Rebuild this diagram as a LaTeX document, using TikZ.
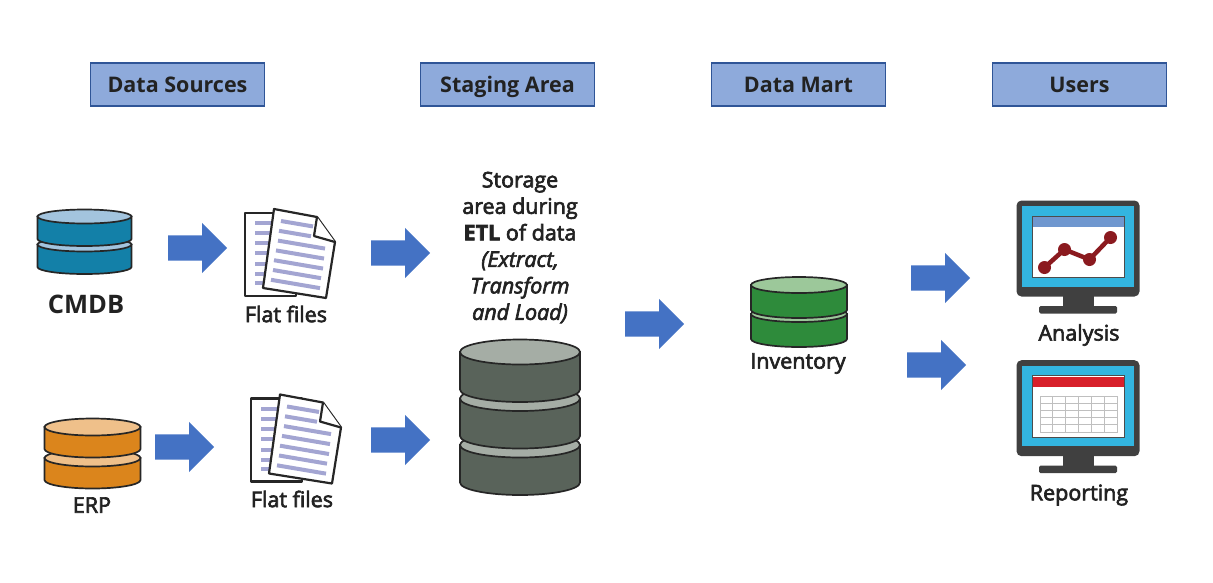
\documentclass[tikz,border=0pt]{standalone}
\usepackage{fontspec}
\setmainfont{Open Sans}
\newfontfamily\semifont[FakeBold=3]{Open Sans}
\usetikzlibrary{shapes.arrows}
\definecolor{headfill}{HTML}{8EAADB}
\definecolor{headline}{HTML}{2F5597}
\definecolor{arrowblue}{HTML}{4472C4}
\definecolor{inktext}{HTML}{222222}
\definecolor{screenblue}{HTML}{33B5E0}
\definecolor{stripe}{HTML}{A3A5D2}
\definecolor{cmdbdark}{HTML}{1380A8}
\definecolor{cmdblight}{HTML}{A3C4DE}
\definecolor{erpdark}{HTML}{DB851C}
\definecolor{erplight}{HTML}{EFC08A}
\definecolor{stagedark}{HTML}{59635A}
\definecolor{stagelight}{HTML}{A5ADA5}
\definecolor{martdark}{HTML}{2E8B3B}
\definecolor{martlight}{HTML}{9CC89A}
\definecolor{chartred}{HTML}{8B1A1F}
\definecolor{barred}{HTML}{D8202A}
\definecolor{barblue}{HTML}{6F97CF}
\tikzstyle{header} = [rectangle, draw = headline, line width = 1.2pt, fill = headfill, minimum width = 174pt, minimum height = 43pt, text height = 17pt, text depth = 2pt, text centered, text = inktext, font = \fontsize{21.5}{24}\selectfont\bfseries]
\tikzstyle{blockarrow} = [single arrow, fill = arrowblue, anchor = tail, minimum height = 59pt, inner xsep = 0pt, inner ysep = 12.5pt, single arrow head extend = 12.5pt]
\tikzstyle{caption} = [text centered, text = inktext, font = \fontsize{21.5}{24}\selectfont\semifont]
\tikzstyle{dbline} = [line width = 1.7pt, draw = black!85]
\tikzstyle{pageline} = [line width = 2.2pt, draw = black!85, fill = white, line join = round]
% #1 layers, #2 centre x, #3 top y, #4 half width, #5 pitch, #6 body, #7 y radius, #8 dark, #9 light
\newcommand{\dbstack}[9]{
    \foreach \lay in {#1} {
        \pgfmathsetmacro{\ytop}{#3 + \lay * #5}
        \draw [dbline, fill = #8] (#2 - #4, \ytop) -- ++(0, #6) arc [start angle = 180, end angle = 0, x radius = #4, y radius = #7] -- ++(0, -#6) -- cycle;
        \draw [dbline, fill = #9] (#2, \ytop) ellipse [x radius = #4, y radius = #7];
    }
}
\newcommand{\flatfiles}[2]{
    \begin{scope}[shift = {(#1, #2)}]
        \draw [pageline] (245, 213) -- (296, 213) -- (296, 296) -- (245, 296) -- cycle;
        \foreach \ys in {223, 233, 243, 253, 264, 274, 283}
            \draw [stripe, line width = 4pt] (255, \ys) -- (280, \ys);
        \draw [pageline] (274, 209) -- (317, 217) -- (335, 242) -- (326, 298) -- (263, 288) -- cycle;
        \draw [pageline] (317, 217) -- (314, 236) -- (335, 242);
        \foreach \ys/\xa/\xb in {0/281/313, 1/279/311, 2/278/325, 3/276/324, 4/274/323, 5/273/321, 6/271/320}
            \draw [stripe, line width = 4pt] (\xa, 221 + \ys * 9.8) -- (\xb, 221 + \ys * 9.8 + 0.17 * \xb - 0.17 * \xa);
    \end{scope}
}
\newcommand{\monitor}[1]{
    \begin{scope}[shift = {(0, #1)}]
        \fill [black!75] (1063, 296) rectangle (1094, 308);
        \fill [black!75, rounded corners = 1.5pt] (1039, 306) rectangle (1117, 313.5);
        \fill [black!75, rounded corners = 5pt] (1016.5, 200.5) rectangle (1139.5, 296.5);
        \fill [screenblue] (1022, 206) rectangle (1134, 286.5);
        \draw [black!70, line width = 1pt, fill = white] (1032, 216) rectangle (1124, 277.5);
    \end{scope}
}
\begin{document}
\begin{tikzpicture}[x = 1pt, y = -1pt, node distance = 0pt]
    \useasboundingbox (0, 0) rectangle (1213, 582);

    \node (sources) [header] at (177.5, 84.5) {Data Sources};
    \node (staging) [header, right of = sources, xshift = 330pt] {Staging Area};
    \node (mart) [header, right of = staging, xshift = 291pt] {Data Mart};
    \node (users) [header, right of = mart, xshift = 281pt] {Users};

    \dbstack{1, 0}{84.5}{216.5}{47}{28}{22.5}{7}{cmdbdark}{cmdblight}
    \dbstack{1, 0}{92.5}{427}{48}{31}{22}{8.5}{erpdark}{erplight}
    \dbstack{2, 1, 0}{520}{352}{60}{46.5}{37.5}{12.5}{stagedark}{stagelight}
    \dbstack{1, 0}{799}{285}{48}{29}{25}{8}{martdark}{martlight}

    \flatfiles{0}{0}
    \flatfiles{6}{185.5}

    \monitor{0}
    \fill [barblue] (1032.5, 216.5) rectangle (1123.5, 227);
    \draw [chartred, line width = 4.5pt] (1044.5, 267.5) -- (1064.5, 249.5) -- (1089.5, 259.5) -- (1110.5, 237.5);
    \foreach \cx/\cy in {1044.5/267.5, 1064.5/249.5, 1089.5/259.5, 1110.5/237.5}
        \fill [chartred] (\cx, \cy) circle (6.5);

    \monitor{159.7}
    \fill [barred] (1032.5, 376.5) rectangle (1123.5, 387);
    \draw [black!25, line width = 1pt] (1040, 396) rectangle (1117, 432);
    \foreach \gx in {1, ..., 5}
        \draw [black!25, line width = 1pt] (1040 + \gx * 12.83, 396) -- (1040 + \gx * 12.83, 432);
    \foreach \gy in {1, ..., 4}
        \draw [black!25, line width = 1pt] (1040, 396 + \gy * 7.2) -- (1117, 396 + \gy * 7.2);

    \node (arrow1) [blockarrow] at (168, 248) {};
    \node (arrow2) [blockarrow] at (371, 253) {};
    \node (arrow3) [blockarrow] at (155, 447) {};
    \node (arrow4) [blockarrow] at (371, 440) {};
    \node (arrow5) [blockarrow] at (625, 324) {};
    \node (arrow6) [blockarrow] at (911, 278) {};
    \node (arrow7) [blockarrow] at (907, 365) {};

    \node (cmdb) [caption, font = \fontsize{25.5}{28}\selectfont\bfseries] at (86, 304) {CMDB};
    \node (flat1) [caption] at (286, 314) {Flat files};
    \node (erp) [caption] at (92, 505) {ERP};
    \node (flat2) [caption] at (292, 499) {Flat files};
    \node (inventory) [caption] at (798, 363.5) {Inventory};
    \node (analysis) [caption] at (1079, 335) {Analysis};
    \node (reporting) [caption] at (1079, 495) {Reporting};
    \node (etl) [caption, align = center, font = \fontsize{21.5}{26.5}\selectfont\semifont] at (520, 247.5) {Storage\\area during\\{\bfseries ETL} of data\\{\itshape (Extract,}\\{\itshape Transform}\\{\itshape and Load)}};
\end{tikzpicture}
\end{document}
